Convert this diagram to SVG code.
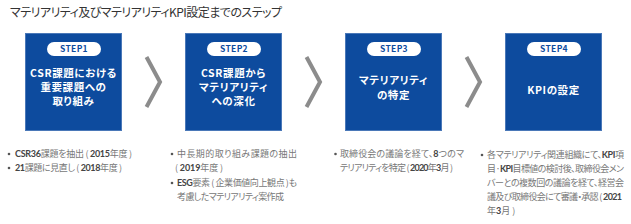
<svg xmlns="http://www.w3.org/2000/svg" width="631" height="224" viewBox="0 0 631 224">
<style>
.t{font-family:"Noto Sans CJK JP","Noto Sans",sans-serif;font-feature-settings:"palt"}
.title{font-size:12px;fill:#333}
.box{fill:#0d4b9e;stroke:#4a78b8;stroke-width:1}
.pill{fill:#fff}
.step{font-size:8.5px;font-weight:700;fill:#0d4b9e;text-anchor:middle;letter-spacing:0.3px}
.bt{font-size:10.5px;font-weight:700;fill:#fff;text-anchor:middle;letter-spacing:0.6px}
.chev{fill:none;stroke:#8c8c8c;stroke-width:4}
.li{font-size:9px;fill:#777}
.b{font-weight:700;fill:#444;font-family:"Lato","Noto Sans",sans-serif}
.dot{fill:#555}
</style>
<rect width="631" height="224" fill="#fff"/>
<text class="t title" x="10" y="17" textLength="272">マテリアリティ及びマテリアリティKPI設定までのステップ</text>

<g id="step1">
<rect class="box" x="25.5" y="33.5" width="96" height="97"/>
<rect class="pill" x="47" y="42" width="54" height="14" rx="7"/>
<text class="t step" x="74" y="52.2">STEP1</text>
<text class="t bt" x="73.5" y="76.5">CSR課題における</text>
<text class="t bt" x="73.5" y="90.5">重要課題への</text>
<text class="t bt" x="73.5" y="105">取り組み</text>
</g>
<g id="step2">
<rect class="box" x="185.5" y="33.5" width="96" height="97"/>
<rect class="pill" x="207" y="42" width="54" height="14" rx="7"/>
<text class="t step" x="234" y="52.2">STEP2</text>
<text class="t bt" x="233.5" y="76.5">CSR課題から</text>
<text class="t bt" x="233.5" y="90.5">マテリアリティ</text>
<text class="t bt" x="233.5" y="105">への深化</text>
</g>
<g id="step3">
<rect class="box" x="345.5" y="33.5" width="96" height="97"/>
<rect class="pill" x="367" y="42" width="54" height="14" rx="7"/>
<text class="t step" x="394" y="52.2">STEP3</text>
<text class="t bt" x="393.5" y="84">マテリアリティ</text>
<text class="t bt" x="393.5" y="98.5">の特定</text>
</g>
<g id="step4">
<rect class="box" x="505.5" y="33.5" width="96" height="97"/>
<rect class="pill" x="527" y="42" width="54" height="14" rx="7"/>
<text class="t step" x="554" y="52.2">STEP4</text>
<text class="t bt" x="553.5" y="94">KPIの設定</text>
</g>

<g id="connectors">
<polyline class="chev" points="146.5,57 160,82 146.5,107"/>
<polyline class="chev" points="306.5,57 320,82 306.5,107"/>
<polyline class="chev" points="466.5,57 480,82 466.5,107"/>
</g>

<g id="notes1">
<circle class="dot" cx="9" cy="154" r="1.3"/>
<text class="t li" x="15" y="157" textLength="117"><tspan class="b">CSR36</tspan>課題を抽出 ( <tspan class="b">2015</tspan>年度 )</text>
<circle class="dot" cx="9" cy="168" r="1.3"/>
<text class="t li" x="15" y="171" textLength="107"><tspan class="b">21</tspan>課題に見直し ( <tspan class="b">2018</tspan>年度 )</text>
</g>
<g id="notes2">
<circle class="dot" cx="172" cy="154" r="1.3"/>
<text class="t li" x="177" y="157" textLength="120">中長期的取り組み課題の抽出</text>
<text class="t li" x="175" y="170.5" textLength="48">( <tspan class="b">2019</tspan>年度 )</text>
<circle class="dot" cx="172" cy="183" r="1.3"/>
<text class="t li" x="177" y="186" textLength="120"><tspan class="b">ESG</tspan>要素 ( 企業価値向上観点 )も</text>
<text class="t li" x="177" y="200" textLength="107">考慮したマテリアリティ案作成</text>
</g>
<g id="notes3">
<circle class="dot" cx="335.5" cy="154" r="1.3"/>
<text class="t li" x="340" y="157" textLength="124">取締役会の議論を経て、<tspan class="b">8</tspan>つのマ</text>
<text class="t li" x="340" y="171" textLength="113">テリアリティを特定 ( <tspan class="b">2020</tspan>年<tspan class="b">3</tspan>月 )</text>
</g>
<g id="notes4">
<circle class="dot" cx="482" cy="155" r="1.3"/>
<text class="t li" x="487" y="158" textLength="137">各マテリアリティ関連組織にて、<tspan class="b">KPI</tspan>項</text>
<text class="t li" x="487" y="172" textLength="137">目·<tspan class="b">KPI</tspan>目標値の検討後、取締役会メン</text>
<text class="t li" x="487" y="186" textLength="137">バーとの複数回の議論を経て、経営会</text>
<text class="t li" x="487" y="200" textLength="135">議及び取締役会にて審議・承認 ( <tspan class="b">2021</tspan></text>
<text class="t li" x="487" y="214">年<tspan class="b">3</tspan>月 )</text>
</g>
</svg>
